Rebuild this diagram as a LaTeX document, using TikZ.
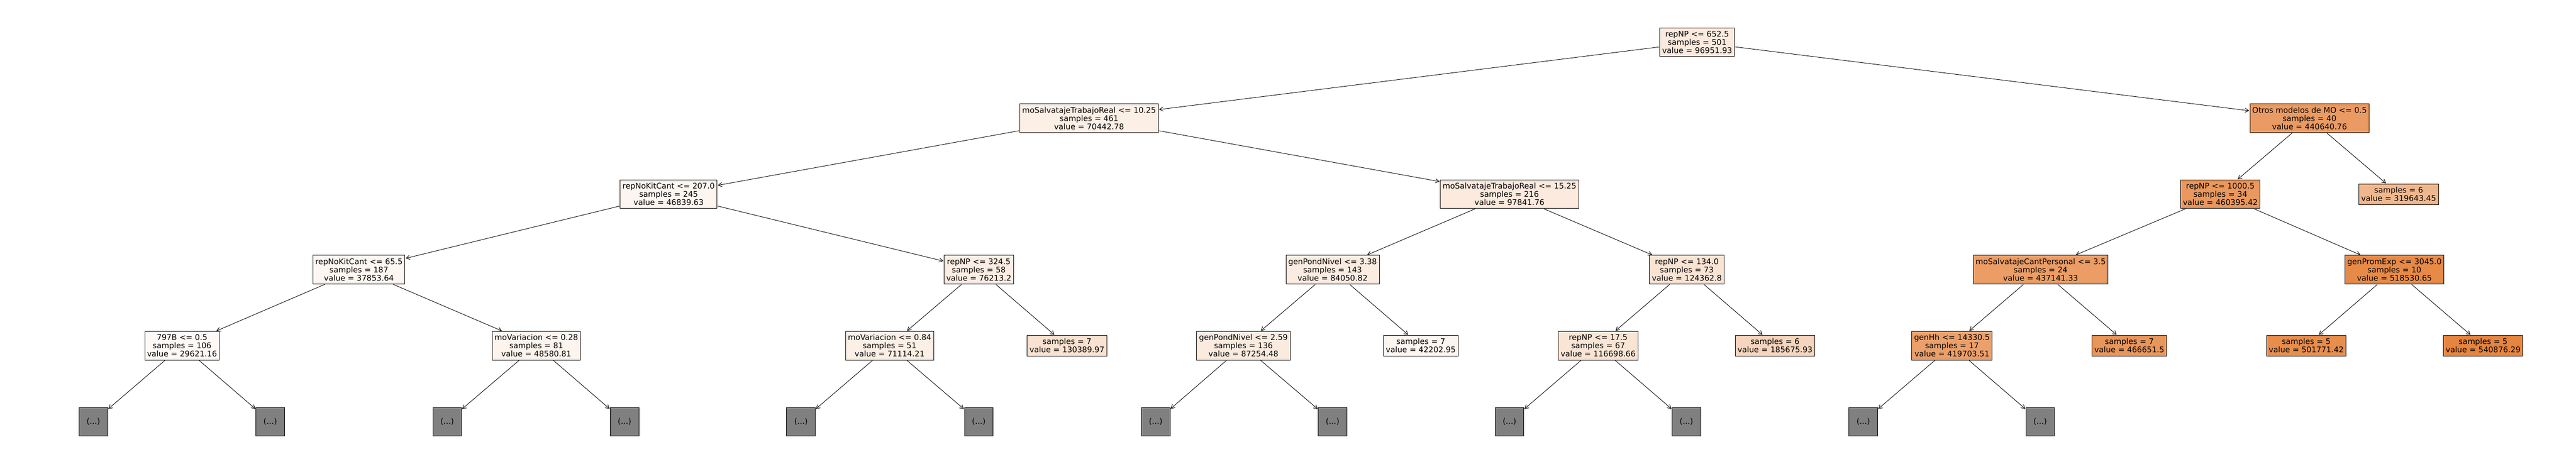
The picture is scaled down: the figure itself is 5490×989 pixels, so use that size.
\documentclass[tikz,border=0pt]{standalone}
\usepackage{fontspec}
\setmainfont{DejaVu Sans}
\usetikzlibrary{arrows.meta, positioning}
\definecolor{treeorange}{RGB}{229, 129, 57}
\definecolor{truncgray}{RGB}{128, 128, 128}

\begin{document}
\begin{tikzpicture}[
    x=1pt, y=-1pt,
    every node/.style={font=\fontsize{16.6}{17.5}\selectfont},
    split/.style={draw, line width=1pt, rectangle, align=center, inner xsep=5pt, inner ysep=4pt, minimum height=61pt},
    leaf/.style={draw, line width=1pt, rectangle, align=center, inner xsep=5pt, inner ysep=4pt, minimum height=44pt},
    trunc/.style={draw, line width=1pt, rectangle, fill=truncgray, minimum width=61pt, minimum height=61pt},
    arrow/.style={-{Straight Barb[length=8pt, width=9pt]}, line width=1pt, shorten >=1pt, shorten <=1pt}
]
\useasboundingbox (0,0) rectangle (5490,989);

% Root
\node[split, fill=treeorange!17] (root) at (3617,90) {repNP <= 652.5\\samples = 501\\value = 96951.93};

% Level 1
\node[split, fill=treeorange!13] (msr1025) at (2321,252) {moSalvatajeTrabajoReal <= 10.25\\samples = 461\\value = 70442.78};
\node[split, fill=treeorange!79] (otros) at (4922,252) {Otros modelos de MO <= 0.5\\samples = 40\\value = 440640.76};

% Level 2
\node[split, fill=treeorange!8] (rnk207) at (1425,414) {repNoKitCant <= 207.0\\samples = 245\\value = 46839.63};
\node[split, fill=treeorange!17] (msr1525) at (3217,414) {moSalvatajeTrabajoReal <= 15.25\\samples = 216\\value = 97841.76};
\node[split, fill=treeorange!82] (np10005) at (4732,414) {repNP <= 1000.5\\samples = 34\\value = 460395.42};
\node[leaf, fill=treeorange!57] (lf319643) at (5112,414) {samples = 6\\value = 319643.45};

% Level 3
\node[split, fill=treeorange!7] (rnk655) at (765,575) {repNoKitCant <= 65.5\\samples = 187\\value = 37853.64};
\node[split, fill=treeorange!14] (np3245) at (2086,575) {repNP <= 324.5\\samples = 58\\value = 76213.2};
\node[split, fill=treeorange!15] (gpn338) at (2840,575) {genPondNivel <= 3.38\\samples = 143\\value = 84050.82};
\node[split, fill=treeorange!22] (np134) at (3595,575) {repNP <= 134.0\\samples = 73\\value = 124362.8};
\node[split, fill=treeorange!78] (mscp35) at (4349,575) {moSalvatajeCantPersonal <= 3.5\\samples = 24\\value = 437141.33};
\node[split, fill=treeorange!93] (gpe3045) at (5103,575) {genPromExp <= 3045.0\\samples = 10\\value = 518530.65};

% Level 4
\node[split, fill=treeorange!5] (b797) at (388,737) {797B <= 0.5\\samples = 106\\value = 29621.16};
\node[split, fill=treeorange!9] (mv028) at (1143,737) {moVariacion <= 0.28\\samples = 81\\value = 48580.81};
\node[split, fill=treeorange!13] (mv084) at (1896,737) {moVariacion <= 0.84\\samples = 51\\value = 71114.21};
\node[leaf, fill=treeorange!23] (lf130389) at (2274,737) {samples = 7\\value = 130389.97};
\node[split, fill=treeorange!16] (gpn259) at (2650,737) {genPondNivel <= 2.59\\samples = 136\\value = 87254.48};
\node[leaf, fill=treeorange!8] (lf42202) at (3028,737) {samples = 7\\value = 42202.95};
\node[split, fill=treeorange!21] (np175) at (3406,737) {repNP <= 17.5\\samples = 67\\value = 116698.66};
\node[leaf, fill=treeorange!33] (lf185675) at (3783,737) {samples = 6\\value = 185675.93};
\node[split, fill=treeorange!75] (genhh) at (4160,737) {genHh <= 14330.5\\samples = 17\\value = 419703.51};
\node[leaf, fill=treeorange!83] (lf466651) at (4538,737) {samples = 7\\value = 466651.5};
\node[leaf, fill=treeorange!90] (lf501771) at (4915,737) {samples = 5\\value = 501771.42};
\node[leaf, fill=treeorange!97] (lf540876) at (5292,737) {samples = 5\\value = 540876.29};

% Truncated subtrees
\node[trunc] (t1) at (199,899) {(...)};
\node[trunc] (t2) at (576,899) {(...)};
\node[trunc] (t3) at (953,899) {(...)};
\node[trunc] (t4) at (1331,899) {(...)};
\node[trunc] (t5) at (1707,899) {(...)};
\node[trunc] (t6) at (2086,899) {(...)};
\node[trunc] (t7) at (2463,899) {(...)};
\node[trunc] (t8) at (2840,899) {(...)};
\node[trunc] (t9) at (3217,899) {(...)};
\node[trunc] (t10) at (3594,899) {(...)};
\node[trunc] (t11) at (3971,899) {(...)};
\node[trunc] (t12) at (4348,899) {(...)};

% Edges
\draw[arrow] (root) -- (msr1025);
\draw[arrow] (root) -- (otros);
\draw[arrow] (msr1025) -- (rnk207);
\draw[arrow] (msr1025) -- (msr1525);
\draw[arrow] (otros) -- (np10005);
\draw[arrow] (otros) -- (lf319643);
\draw[arrow] (rnk207) -- (rnk655);
\draw[arrow] (rnk207) -- (np3245);
\draw[arrow] (msr1525) -- (gpn338);
\draw[arrow] (msr1525) -- (np134);
\draw[arrow] (np10005) -- (mscp35);
\draw[arrow] (np10005) -- (gpe3045);
\draw[arrow] (rnk655) -- (b797);
\draw[arrow] (rnk655) -- (mv028);
\draw[arrow] (np3245) -- (mv084);
\draw[arrow] (np3245) -- (lf130389);
\draw[arrow] (gpn338) -- (gpn259);
\draw[arrow] (gpn338) -- (lf42202);
\draw[arrow] (np134) -- (np175);
\draw[arrow] (np134) -- (lf185675);
\draw[arrow] (mscp35) -- (genhh);
\draw[arrow] (mscp35) -- (lf466651);
\draw[arrow] (gpe3045) -- (lf501771);
\draw[arrow] (gpe3045) -- (lf540876);
\draw[arrow] (b797) -- (t1);
\draw[arrow] (b797) -- (t2);
\draw[arrow] (mv028) -- (t3);
\draw[arrow] (mv028) -- (t4);
\draw[arrow] (mv084) -- (t5);
\draw[arrow] (mv084) -- (t6);
\draw[arrow] (gpn259) -- (t7);
\draw[arrow] (gpn259) -- (t8);
\draw[arrow] (np175) -- (t9);
\draw[arrow] (np175) -- (t10);
\draw[arrow] (genhh) -- (t11);
\draw[arrow] (genhh) -- (t12);

\end{tikzpicture}
\end{document}
